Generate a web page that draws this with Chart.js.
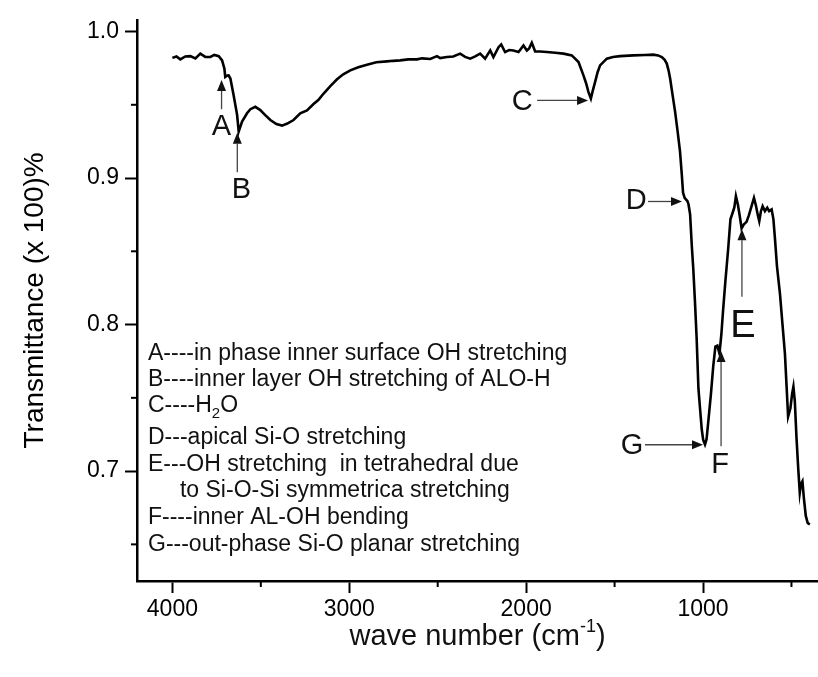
<!DOCTYPE html>
<html>
<head>
<meta charset="utf-8">
<script src="https://cdn.jsdelivr.net/npm/chart.js@4.4.0/dist/chart.umd.min.js"></script>
<style>
  html, body { margin: 0; padding: 0; background: #fff; }
  canvas { display: block; }
</style>
</head>
<body>
<canvas id="ftirChart" width="818" height="677"></canvas>
<script>
// FTIR spectrum
const wavenumber = [
  4000, 3977, 3955, 3927, 3898, 3870, 3842, 3814, 3785, 3763,
  3738, 3719, 3706, 3701, 3689, 3682, 3672, 3654, 3634, 3625,
  3606, 3578, 3559, 3531, 3503, 3475, 3446, 3412, 3380, 3350,
  3315, 3277, 3239, 3202, 3175, 3145, 3107, 3069, 3034, 2994,
  2949, 2900, 2847, 2787, 2751, 2712, 2667, 2617, 2588, 2542,
  2504, 2486, 2448, 2412, 2373, 2345, 2316, 2288, 2260, 2232,
  2203, 2185, 2156, 2141, 2119, 2096, 2072, 2043, 2015, 1996,
  1983, 1968, 1949, 1921, 1883, 1836, 1789, 1742, 1704, 1676,
  1661, 1648, 1634, 1624, 1610, 1596, 1582, 1544, 1509, 1469,
  1394, 1328, 1281, 1254, 1233, 1217, 1205, 1195, 1186, 1172,
  1158, 1144, 1130, 1120, 1113, 1104, 1088, 1082, 1073, 1064,
  1055, 1045, 1036, 1026, 1017, 1007, 999, 989, 980, 970,
  955, 942, 930, 919, 907, 896, 886, 874, 858, 845,
  834, 823, 814, 803, 792, 782, 769, 754, 741, 726,
  712, 701, 691, 682, 673, 663, 650, 637, 626, 612,
  602, 593, 582, 565, 551, 537, 527, 519, 506, 496,
  489, 481, 472, 462, 453, 446, 438, 430, 419, 408,
  396
];
const transmittance = [
  0.982, 0.983, 0.981, 0.983, 0.9832, 0.9817, 0.9849, 0.9827, 0.9826, 0.984,
  0.9832, 0.9803, 0.9747, 0.969, 0.970, 0.9701, 0.9679, 0.9566, 0.943, 0.9317,
  0.9385, 0.9442, 0.947, 0.9486, 0.9464, 0.943, 0.9396, 0.9369, 0.9358, 0.9372,
  0.9396, 0.9442, 0.9461, 0.9505, 0.9532, 0.9577, 0.9627, 0.9674, 0.9708, 0.9735,
  0.9756, 0.9774, 0.979, 0.9796, 0.980, 0.9803, 0.981, 0.981, 0.9817, 0.9813,
  0.9832, 0.9819, 0.9826, 0.983, 0.9849, 0.9827, 0.9815, 0.983, 0.9849, 0.9815,
  0.9871, 0.9826, 0.9893, 0.9912, 0.986, 0.9874, 0.9871, 0.986, 0.9905, 0.9871,
  0.9885, 0.9923, 0.9864, 0.9864, 0.986, 0.9855, 0.9849, 0.9837, 0.9792, 0.9701,
  0.9647, 0.9588, 0.9543, 0.9593, 0.9656, 0.9722, 0.9769, 0.9815, 0.9826, 0.9832,
  0.9837, 0.984, 0.9842, 0.9837, 0.9826, 0.9807, 0.9781, 0.9735, 0.9679, 0.9566,
  0.9453, 0.9322, 0.9181, 0.9023, 0.890, 0.8865, 0.8842, 0.882, 0.8752, 0.8548,
  0.8379, 0.8141, 0.7904, 0.7564, 0.7429, 0.7282, 0.7212, 0.7181, 0.7218, 0.7341,
  0.7531, 0.772, 0.7849, 0.7856, 0.7802, 0.7938, 0.8107, 0.829, 0.8514, 0.8718,
  0.8758, 0.8799, 0.8877, 0.882, 0.8738, 0.8657, 0.8684, 0.8701, 0.8745, 0.8806,
  0.8864, 0.8813, 0.8752, 0.8706, 0.8772, 0.8808, 0.8774, 0.8797, 0.8774, 0.8786,
  0.8718, 0.8582, 0.8399, 0.8209, 0.8005, 0.7802, 0.7564, 0.7372, 0.7429, 0.753,
  0.7576, 0.7476, 0.7237, 0.7022, 0.6852, 0.6913, 0.6931, 0.6818, 0.6694, 0.6645,
  0.6637
];

const xMajorTicks = [4000, 3000, 2000, 1000];
const xMinorTicks = [3500, 2500, 1500, 500];
const yMajorTicks = [0.7, 0.8, 0.9, 1.0];
const yMinorTicks = [0.65, 0.75, 0.85, 0.95];

// peak letters: text spot and arrow (from -> to), in wavenumber / transmittance
const peakLetters = ['A', 'B', 'C', 'D', 'E', 'F', 'G'];
const peakTextAt = [[3723, 0.935], [3610, 0.892], [2022, 0.952], [1378, 0.884], [774, 0.799], [903, 0.704], [1401, 0.717]];
const peakArrowFrom = [[3722, 0.947], [3633, 0.904], [1938, 0.953], [1311, 0.884], [780, 0.819], [898, 0.717], [1328, 0.718]];
const peakArrowTo = [[3722, 0.967], [3633, 0.931], [1650, 0.953], [1119, 0.884], [780, 0.865], [898, 0.782], [1000, 0.718]];

const bandNotes = [
  'A----in phase inner surface OH stretching',
  'B----inner layer OH stretching of ALO-H',
  'C----H|2|O',
  'D---apical Si-O stretching',
  'E---OH stretching  in tetrahedral due',
  '     to Si-O-Si symmetrica stretching',
  'F----inner AL-OH bending',
  'G---out-phase Si-O planar stretching'
];

const FONT = '"Liberation Sans", Arial, Helvetica, sans-serif';

const points = wavenumber.map((w, i) => ({ x: w, y: transmittance[i] }));

function arrow(ctx, x1, y1, x2, y2) {
  const a = Math.atan2(y2 - y1, x2 - x1);
  const len = 11, hw = 4.5;
  ctx.beginPath();
  ctx.moveTo(x1, y1);
  ctx.lineTo(x2 - Math.cos(a) * len, y2 - Math.sin(a) * len);
  ctx.stroke();
  ctx.beginPath();
  ctx.moveTo(x2, y2);
  ctx.lineTo(x2 - Math.cos(a) * len - Math.sin(a) * hw, y2 - Math.sin(a) * len + Math.cos(a) * hw);
  ctx.lineTo(x2 - Math.cos(a) * len + Math.sin(a) * hw, y2 - Math.sin(a) * len - Math.cos(a) * hw);
  ctx.closePath();
  ctx.fill();
}

const overlay = {
  id: 'overlay',
  afterDraw(chart) {
    const { ctx, chartArea } = chart;
    const xs = chart.scales.x, ys = chart.scales.y;
    ctx.save();

    // minor ticks
    ctx.strokeStyle = '#000';
    ctx.lineWidth = 2;
    xMinorTicks.forEach(v => {
      const px = xs.getPixelForValue(v);
      ctx.beginPath();
      ctx.moveTo(px, chartArea.bottom);
      ctx.lineTo(px, chartArea.bottom + 6);
      ctx.stroke();
    });
    yMinorTicks.forEach(v => {
      const py = ys.getPixelForValue(v);
      ctx.beginPath();
      ctx.moveTo(chartArea.left, py);
      ctx.lineTo(chartArea.left - 6, py);
      ctx.stroke();
    });

    // peak letters and arrows
    ctx.fillStyle = '#111';
    ctx.strokeStyle = '#444';
    ctx.lineWidth = 1.3;
    ctx.textAlign = 'center';
    ctx.textBaseline = 'middle';
    peakLetters.forEach((l, i) => {
      const f = peakArrowFrom[i], t = peakArrowTo[i], p = peakTextAt[i];
      arrow(ctx, xs.getPixelForValue(f[0]), ys.getPixelForValue(f[1]),
        xs.getPixelForValue(t[0]), ys.getPixelForValue(t[1]));
      ctx.font = (l === 'E' ? 38 : 29) + 'px ' + FONT;
      ctx.fillText(l, xs.getPixelForValue(p[0]), ys.getPixelForValue(p[1]));
    });

    // band notes
    ctx.textAlign = 'left';
    ctx.textBaseline = 'middle';
    const noteY = [354, 380, 406, 438, 465, 491, 518, 545];
    bandNotes.forEach((txt, i) => {
      let x = chartArea.left + 11;
      const y = noteY[i];
      txt.split('|').forEach((part, k) => {
        if (k === 1) {
          ctx.font = '15px ' + FONT;
          ctx.fillText(part, x, y + 8);
        } else {
          ctx.font = '23px ' + FONT;
          ctx.fillText(part, x, y);
        }
        x += ctx.measureText(part).width;
      });
    });

    // x axis title with superscript
    const cx = (chartArea.left + chartArea.right) / 2;
    const base = 645;
    const main = 'wave number (cm', sup = '-1', end = ')';
    ctx.font = '29px ' + FONT;
    const w1 = ctx.measureText(main).width, w3 = ctx.measureText(end).width;
    ctx.font = '18px ' + FONT;
    const w2 = ctx.measureText(sup).width;
    let x0 = cx - (w1 + w2 + w3) / 2;
    ctx.textBaseline = 'alphabetic';
    ctx.font = '29px ' + FONT;
    ctx.fillText(main, x0, base);
    ctx.font = '18px ' + FONT;
    ctx.fillText(sup, x0 + w1, base - 13);
    ctx.font = '29px ' + FONT;
    ctx.fillText(end, x0 + w1 + w2, base);

    ctx.restore();
  }
};

new Chart(document.getElementById('ftirChart'), {
  type: 'line',
  data: {
    datasets: [{
      data: points,
      borderColor: '#000',
      borderWidth: 2.6,
      pointRadius: 0,
      tension: 0,
      fill: false
    }]
  },
  options: {
    responsive: false,
    animation: false,
    devicePixelRatio: 1,
    layout: { padding: { top: 14, right: 0, left: 0, bottom: 0 } },
    plugins: {
      legend: { display: false },
      tooltip: { enabled: false }
    },
    scales: {
      x: {
        type: 'linear',
        reverse: true,
        min: 350,
        max: 4200,
        afterBuildTicks: s => { s.ticks = xMajorTicks.map(v => ({ value: v })); },
        afterFit: s => { s.height = 96; },
        ticks: {
          color: '#000',
          font: { family: FONT, size: 23 },
          padding: 3,
          maxRotation: 0,
          autoSkip: false,
          callback: v => String(v)
        },
        grid: { drawOnChartArea: false, drawTicks: true, tickLength: 12, tickWidth: 2, tickColor: '#000' },
        border: { display: true, color: '#000', width: 2.5 },
        title: { display: false }
      },
      y: {
        min: 0.625,
        max: 1.008,
        afterBuildTicks: s => { s.ticks = yMajorTicks.map(v => ({ value: v })); },
        afterFit: s => { s.width = 137; },
        ticks: {
          color: '#000',
          font: { family: FONT, size: 23 },
          padding: 6,
          autoSkip: false,
          callback: v => v.toFixed(1)
        },
        grid: { drawOnChartArea: false, drawTicks: true, tickLength: 12, tickWidth: 2, tickColor: '#000' },
        border: { display: true, color: '#000', width: 2.5 },
        title: {
          display: true,
          text: 'Transmittance (x 100)%',
          color: '#000',
          font: { family: FONT, size: 28 },
          padding: { top: 18, bottom: 0 }
        }
      }
    }
  },
  plugins: [overlay]
});
</script>
</body>
</html>
